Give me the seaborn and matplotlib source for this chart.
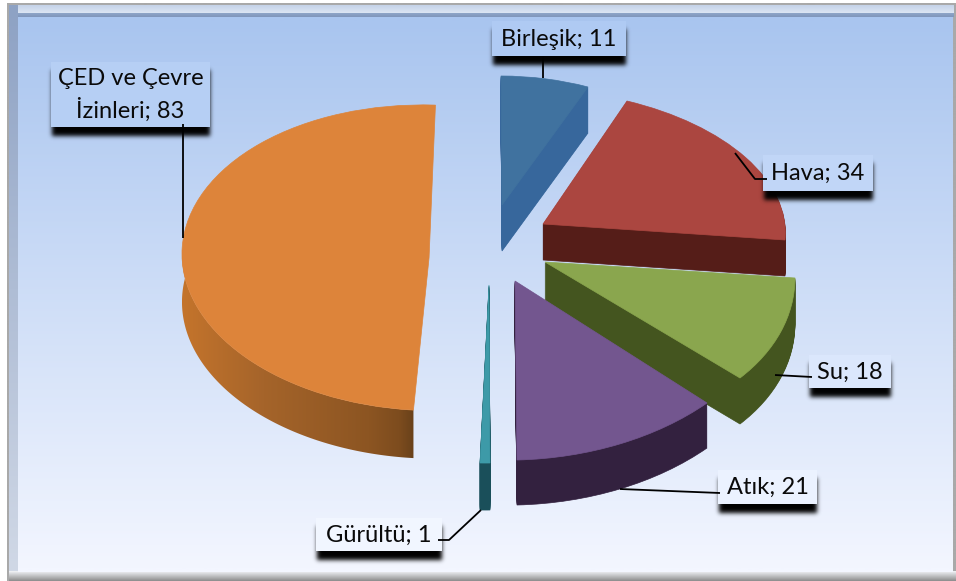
import numpy as np
import matplotlib
matplotlib.use("Agg")
import matplotlib.pyplot as plt
import seaborn as sns
from matplotlib.colors import LinearSegmentedColormap
from matplotlib.patches import Polygon, Rectangle
from matplotlib.transforms import Affine2D

categories = ["Birleşik", "Hava", "Su", "Atık", "Gürültü", "ÇED ve Çevre\nİzinleri"]
values = [11, 34, 18, 21, 1, 83]

top_colors = ["#40729f", "#ab4640", "#8aa64e", "#73568f", "#3d9aa8", "#dd843a"]
side_colors = ["#37679c", "#551d18", "#44551f", "#33213f", "#1a4f5a", "#b5672a"]
depths = [46, 36, 46, 45, 47, 48]
draw_order = [0, 1, 2, 3, 5, 4]
GRADIENT_SLICE = 5
# slice placement: pixel anchors for apex, arc start, arc end (and optional arc middle)
anchors = [
    ((502, 205), (501, 76), (588, 87), None),
    ((543, 224), (627, 101), (785, 240), None),
    ((545, 262), (795, 278), (740, 378), None),
    ((515, 281), (707, 403), (517, 460), None),
    ((489, 285), (490, 463), (480, 463), None),
    ((426, 258), (415, 410), (437, 105), (182, 250)),
]
boxes = [(492, 21, 626, 56), (763, 155, 873, 191), (809, 355, 891, 388),
         (718, 470, 817, 504), (316, 518, 442, 551), (51, 62, 210, 127)]
leaders = [
    [(543, 56), (543, 78)],
    [(735, 153), (755, 179), (767, 179)],
    [(775, 375), (812, 377)],
    [(620, 489), (720, 493)],
    [(481, 510), (449, 540), (438, 540)],
    [(183, 124), (183, 238)],
]

sns.set_theme(style="white")
plt.rcParams["font.family"] = ["Lato", "DejaVu Sans"]

W, H = 956, 581
fig = plt.figure(figsize=(W / 100, H / 100), dpi=100, facecolor="white")
ax = fig.add_axes([0, 0, 1, 1])


def extent_grad(x0, y0, x1, y1, c0, c1, z=0):
    n = 64
    c0, c1 = np.array(matplotlib.colors.to_rgb(c0)), np.array(matplotlib.colors.to_rgb(c1))
    t = np.linspace(0, 1, n)[:, None]
    g = (c0 * (1 - t) + c1 * t)[:, None, :]
    ax.imshow(g, extent=(x0, x1, y1, y0), aspect="auto", zorder=z, interpolation="bilinear")


# frame and gradient background
extent_grad(7, 3, 956, 581, "#a9a9a9", "#a9a9a9", z=0)
extent_grad(9, 5, 954, 14, "#c4d2e8", "#dfe8f5", z=1)
extent_grad(9, 13, 954, 17, "#8fa5c8", "#7f96bb", z=1)
extent_grad(9, 5, 18, 574, "#8ea2c4", "#d0d8e6", z=1)
extent_grad(9, 571, 956, 581, "#f2f4f8", "#8c8c8c", z=1)
extent_grad(18, 17, 953, 572, "#a9c5ef", "#f3f6ff", z=2)
ext_bg0, ext_bg1 = np.array([0xa9, 0xc5, 0xef]) / 255, np.array([0xf3, 0xf6, 0xff]) / 255

# exploded pie slices: every layer comes from ax.pie on the values, placed by an affine map
cum = np.concatenate([[0], np.cumsum(values)]) / np.sum(values)
transforms = []
for i in range(len(values)):
    a0 = np.deg2rad(90 - 360 * cum[i])
    a1 = np.deg2rad(90 - 360 * cum[i + 1])
    apex, p0, p1, pm = anchors[i]
    src = [(0, 0), (np.cos(a0), np.sin(a0)), (np.cos(a1), np.sin(a1))]
    dst = [apex, p0, p1]
    if pm is not None:
        src.append((-1, 0))
        dst.append(pm)
    A = np.c_[np.array(src), np.ones(len(src))]
    M, *_ = np.linalg.lstsq(A, np.array(dst, float), rcond=None)
    transforms.append(Affine2D(np.array([[M[0, 0], M[1, 0], M[2, 0]],
                                         [M[0, 1], M[1, 1], M[2, 1]],
                                         [0, 0, 1]])))

for d in range(int(max(depths)), -1, -1):
    cols = [top_colors[i] if d == 0 else side_colors[i] for i in range(len(values))]
    wedges, _ = ax.pie(values, colors=cols, startangle=90, counterclock=False, frame=True)
    for i, w in enumerate(wedges):
        w.set_edgecolor(cols[i])
        w.set_linewidth(0.5)
        if d > depths[i] or (d > 0 and i == GRADIENT_SLICE):
            w.set_visible(False)
            continue
        w.set_transform(transforms[i] + Affine2D().translate(0, d) + ax.transData)
        w.set_zorder(10 + draw_order.index(i) * 2 + (1 if d == 0 else 0))

# side of the largest slice: band between its arc and the lowered arc, shaded left to right
i = GRADIENT_SLICE
th = np.deg2rad(90 - 360 * np.linspace(cum[i], cum[i + 1], 200))
arc = transforms[i].transform(np.c_[np.cos(th), np.sin(th)])
band = np.vstack([arc, (arc + [0, depths[i]])[::-1]])
clip = Polygon(band, closed=True, transform=ax.transData, facecolor="none", edgecolor="none")
ax.add_patch(clip)
shade = LinearSegmentedColormap.from_list(
    "side", [(0, "#c4742c"), (0.35, "#a5642a"), (0.8, "#8c5522"), (0.93, "#7d4c1e"), (1, "#66401a")])
img = ax.imshow(np.linspace(0, 1, 256)[None, :], cmap=shade, extent=(182, 416, 470, 250),
                aspect="auto", zorder=10 + draw_order.index(i) * 2)
img.set_clip_path(clip)


def soft_shadow(x0, y0, x1, y1, sigma=2.2, pad=10):
    nx, ny = int(x1 - x0 + 2 * pad), int(y1 - y0 + 2 * pad)
    a = np.zeros((ny, nx))
    a[pad:ny - pad, pad:nx - pad] = 1.0
    r = np.arange(-8, 9)
    kern = np.exp(-r ** 2 / (2 * sigma ** 2))
    kern /= kern.sum()
    a = np.apply_along_axis(lambda v: np.convolve(v, kern, mode="same"), 0, a)
    a = np.apply_along_axis(lambda v: np.convolve(v, kern, mode="same"), 1, a)
    rgba = np.zeros((ny, nx, 4))
    rgba[..., 3] = a
    ax.imshow(rgba, extent=(x0 - pad, x1 + pad, y1 + pad, y0 - pad), aspect="auto", zorder=30)


ax.set_aspect("auto")

# labels with soft shadows
for name, val, (x0, y0, x1, y1), seg in zip(categories, values, boxes, leaders):
    t = (0.5 * (y0 + y1) - 17) / (572 - 17)
    bg = ext_bg0 * (1 - t) + ext_bg1 * t
    face = np.clip(bg + 0.012, 0, 1)
    soft_shadow(x0 + 1, y0 + 8, x1, y1 + 9)
    ax.add_patch(Rectangle((x0, y0), x1 - x0, y1 - y0, facecolor=face, edgecolor="none", zorder=31))
    ax.text(0.5 * (x0 + x1), 0.5 * (y0 + y1) + 0.5, f"{name}; {val}", ha="center", va="center",
            fontsize=17, color="#0a0a0a", zorder=33, linespacing=1.45)
    xs, ys = zip(*seg)
    ax.plot(xs, ys, color="black", lw=1.3, zorder=32, solid_capstyle="butt")

ax.set_aspect("auto")
ax.set_xlim(0, W)
ax.set_ylim(H, 0)
ax.set_xticks([])
ax.set_yticks([])
ax.set_frame_on(False)

fig.savefig("out.png", dpi=100, facecolor="white")
